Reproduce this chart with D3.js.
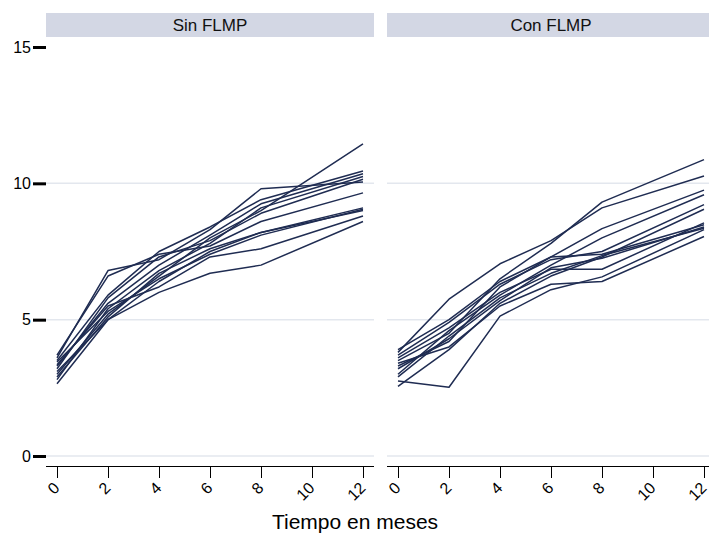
<!DOCTYPE html>
<html><head><meta charset="utf-8">
<script src="https://cdn.jsdelivr.net/npm/d3@7"></script>
<style>body{margin:0;background:#fff}svg{display:block;font-family:"Liberation Sans",Arial,sans-serif}</style>
</head><body><div id="chart"></div>
<script>
const panels = ["Sin FLMP", "Con FLMP"];
const times = [0, 2, 4, 6, 8, 12];
const xTicks = [0, 2, 4, 6, 8, 10, 12];
const yTicks = [0, 5, 10, 15];
const gridTicks = [0, 5, 10];
const sinFLMP = [
  [3.0, 5.2, 6.6, 8.0, 9.0, 11.45],
  [3.6, 6.8, 7.2, 8.3, 9.8, 10.05],
  [3.5, 5.9, 7.5, 8.4, 9.4, 10.45],
  [3.3, 5.6, 7.0, 8.1, 9.25, 10.35],
  [2.8, 5.4, 6.8, 7.8, 9.1, 10.25],
  [3.2, 5.8, 7.3, 7.9, 8.9, 10.15],
  [3.7, 6.6, 7.4, 7.7, 8.6, 9.65],
  [2.65, 5.0, 6.4, 7.5, 8.2, 9.1],
  [3.45, 5.3, 6.5, 7.4, 8.1, 9.05],
  [2.9, 5.1, 6.7, 7.6, 8.2, 9.0],
  [3.35, 5.5, 6.2, 7.3, 7.6, 8.8],
  [3.1, 5.0, 6.0, 6.7, 7.0, 8.6]
];
const conFLMP = [
  [3.5, 4.5, 6.5, 7.8, 9.31, 10.87],
  [3.8, 5.75, 7.05, 7.9, 9.1, 10.27],
  [3.3, 4.2, 6.2, 7.3, 8.34, 9.75],
  [3.0, 4.6, 5.9, 7.0, 8.0, 9.58],
  [3.7, 4.9, 6.3, 7.2, 7.5, 9.22],
  [2.55, 3.9, 5.6, 6.6, 7.3, 9.05],
  [3.6, 4.7, 6.0, 6.85, 6.85, 8.55],
  [3.9, 5.0, 6.4, 7.3, 7.4, 8.48],
  [3.2, 4.3, 5.7, 6.9, 7.25, 8.4],
  [2.75, 2.52, 5.13, 6.1, 6.57, 8.3],
  [3.4, 4.0, 5.5, 6.3, 6.4, 8.05],
  [2.9, 4.4, 5.8, 6.7, 7.35, 8.35]
];
const seriesByPanel = [sinFLMP, conFLMP];
const xTitle = "Tiempo en meses";

const W = 709, H = 544;
const svg = d3.select("#chart").append("svg").attr("width", W).attr("height", H);
const lineColor = "#1f2c52";
const panelLeft = [46, 387];
const panelW = 328;
const pad = 11;
const y = d3.scaleLinear().domain([0, 15]).range([456, 47]);
const axisY = 466;
const ff = '"Liberation Sans",Arial,sans-serif';

panels.forEach((name, i) => {
  const x0 = panelLeft[i];
  const x = d3.scaleLinear().domain([0, 12]).range([x0 + pad, x0 + panelW - pad]);
  const g = svg.append("g");
  g.append("rect").attr("x", x0).attr("y", 13).attr("width", panelW).attr("height", 24).attr("fill", "#d3d7e4");
  g.append("text").attr("x", x0 + panelW / 2).attr("y", 31).attr("text-anchor", "middle")
    .attr("font-size", 17).attr("fill", "#111").text(name);
  g.selectAll("line.grid").data(gridTicks).join("line").attr("class", "grid")
    .attr("x1", x0).attr("x2", x0 + panelW).attr("y1", d => y(d)).attr("y2", d => y(d))
    .attr("stroke", "#e3e7ee").attr("stroke-width", 1.5);
  const line = d3.line().x((d, j) => x(times[j])).y(d => y(d));
  g.selectAll("path.s").data(seriesByPanel[i]).join("path").attr("class", "s")
    .attr("d", line).attr("fill", "none").attr("stroke", lineColor).attr("stroke-width", 1.5)
    .attr("stroke-linejoin", "round");
  const xa = g.append("g").attr("transform", `translate(0,${axisY})`)
    .call(d3.axisBottom(x).tickValues(xTicks).tickSize(12).tickSizeOuter(0));
  xa.select(".domain").attr("d", `M${x0},0.5H${x0 + panelW}`).attr("stroke", "#000");
  xa.selectAll(".tick line").attr("stroke", "#000");
  xa.selectAll(".tick text").attr("font-size", 16).attr("fill", "#000")
    .attr("font-family", ff)
    .attr("text-anchor", "end").attr("dy", null).attr("y", null)
    .attr("transform", "translate(3,23) rotate(-45)");
});

const ya = svg.append("g").attr("transform", `translate(46,0)`)
  .call(d3.axisLeft(y).tickValues(yTicks).tickSize(13).tickSizeOuter(0));
ya.select(".domain").remove();
ya.selectAll(".tick line").attr("stroke", "#000").attr("stroke-width", 3);
ya.selectAll(".tick text").attr("font-size", 16).attr("fill", "#000")
  .attr("font-family", ff).attr("x", -15);

svg.append("text").attr("x", 355).attr("y", 529).attr("text-anchor", "middle")
  .attr("font-size", 21).attr("fill", "#000").attr("font-family", ff).text(xTitle);
</script></body></html>
